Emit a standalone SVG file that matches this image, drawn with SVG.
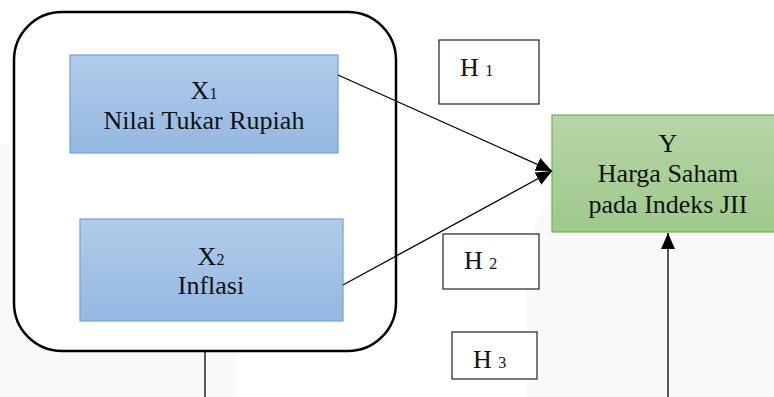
<svg xmlns="http://www.w3.org/2000/svg" width="774" height="397" viewBox="0 0 774 397">
<style>
.t{font-family:'Liberation Serif','Times New Roman',serif;font-size:26px;fill:#111;text-anchor:middle}
.h{font-family:'Liberation Serif','Times New Roman',serif;font-size:26px;fill:#111}
.sub{font-size:16px}
.hb{fill:#fff;stroke:#222;stroke-width:1.2}
.ln{stroke:#000;stroke-width:1.3;fill:none}
</style>
<defs>
<linearGradient id="gb" x1="0" y1="0" x2="0" y2="1"><stop offset="0" stop-color="#b1cbe9"/><stop offset="1" stop-color="#94b8e2"/></linearGradient>
<linearGradient id="gg" x1="0" y1="0" x2="0" y2="1"><stop offset="0" stop-color="#b5d6a7"/><stop offset="1" stop-color="#9fc98b"/></linearGradient>
<marker id="ah" viewBox="0 0 16 14" refX="16" refY="7" markerWidth="16" markerHeight="14" markerUnits="userSpaceOnUse" orient="auto"><path d="M0,0 L16,7 L0,14 Z" fill="#000"/></marker>
</defs>
<rect width="774" height="397" fill="#fff"/>
<rect x="0" y="145" width="236" height="252" fill="#f9f9f9"/>
<path d="M526,397 L526,260 Q535,185 610,175 L774,175 L774,397 Z" fill="#f9f9f9"/>
<g id="group">
<rect x="14" y="12" width="382" height="339" rx="48" ry="48" fill="#fff" stroke="#000" stroke-width="2.5"/>
</g>
<g id="x1">
<rect x="70" y="55" width="268" height="98" fill="url(#gb)" stroke="#6fa3d8" stroke-width="1.2"/>
<text class="t" x="204" y="99">X<tspan class="sub">1</tspan></text>
<text class="t" x="204" y="129">Nilai Tukar Rupiah</text>
</g>
<g id="x2">
<rect x="80" y="219" width="263" height="102" fill="url(#gb)" stroke="#6fa3d8" stroke-width="1.2"/>
<text class="t" x="211" y="265">X<tspan class="sub">2</tspan></text>
<text class="t" x="211" y="294">Inflasi</text>
</g>
<g id="y">
<rect x="552" y="115" width="224" height="117" fill="url(#gg)" stroke="#74ae4f" stroke-width="1.2"/>
<text class="t" x="668" y="152">Y</text>
<text class="t" x="668" y="182">Harga Saham</text>
<text class="t" x="668" y="213">pada Indeks JII</text>
</g>
<g id="h1">
<rect class="hb" x="439" y="40" width="100" height="64"/>
<text class="h" x="460" y="76">H <tspan class="sub">1</tspan></text>
</g>
<g id="h2">
<rect class="hb" x="443" y="234" width="96" height="55"/>
<text class="h" x="464" y="269">H <tspan class="sub">2</tspan></text>
</g>
<g id="h3">
<rect class="hb" x="452" y="332" width="85" height="47"/>
<text class="h" x="473" y="368">H <tspan class="sub">3</tspan></text>
</g>
<g id="connectors">
<line class="ln" x1="338" y1="75" x2="552" y2="171" marker-end="url(#ah)"/>
<line class="ln" x1="343" y1="285" x2="552" y2="171" marker-end="url(#ah)"/>
<line class="ln" x1="205" y1="351" x2="205" y2="397"/>
<line class="ln" x1="668" y1="397" x2="668" y2="233" marker-end="url(#ah)"/>
</g>
</svg>
